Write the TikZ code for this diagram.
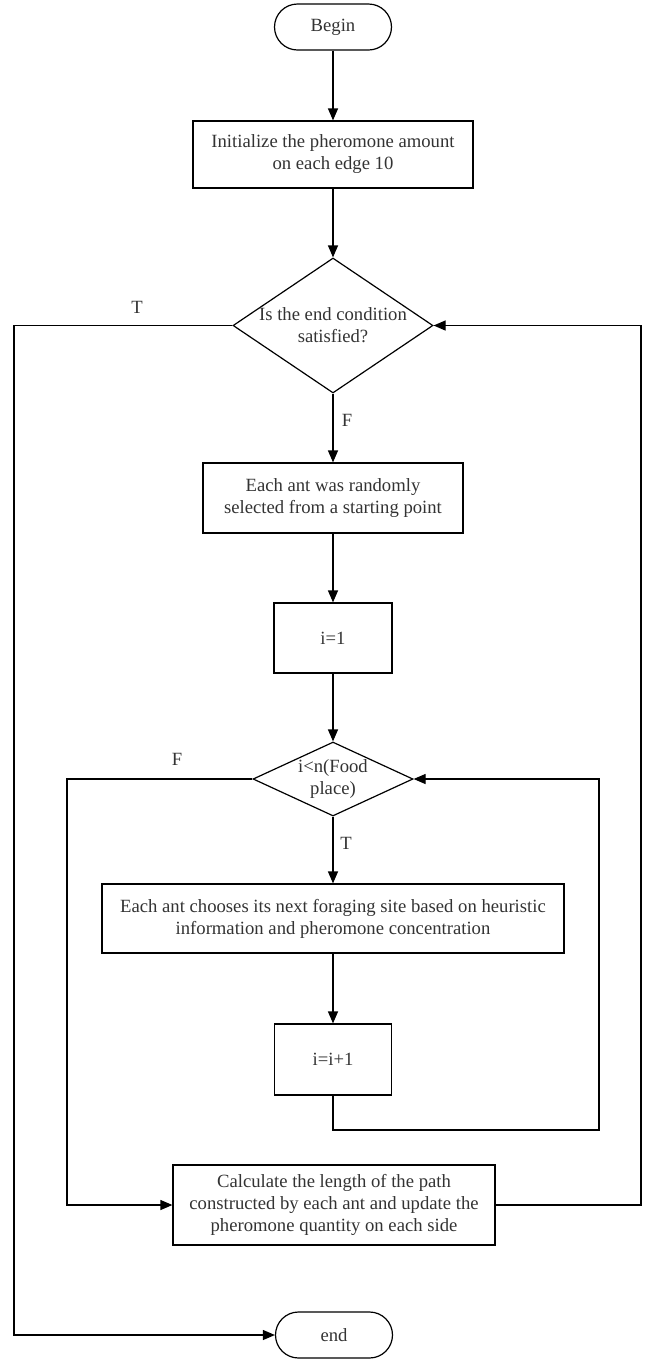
\documentclass[tikz,border=0pt]{standalone}
\usepackage{fontspec}
\setmainfont{Liberation Serif}
\usetikzlibrary{shapes.geometric,arrows.meta}

\begin{document}
\begin{tikzpicture}[x=0.75pt,y=-0.75pt,
		line width=0.9pt, >={Triangle[length=9pt,width=7.5pt]},
		every node/.style={font=\fontsize{14}{16.5}\selectfont, text=black!80},
		stepbox/.style={draw, rectangle, align=center, inner sep=0pt},
		termbox/.style={draw, rectangle, rounded corners=17.25pt, minimum width=87.75pt, minimum height=34.5pt},
		decision/.style={draw, diamond, align=center, inner sep=-2pt}]
		
		\useasboundingbox (0,0) rectangle (646,1361);
		
		% Blocks
		\node[termbox] (begin) at (333,27) {Begin};
		\node[stepbox, minimum width=210pt, minimum height=50.25pt] (init) at (333,154.5) {Initialize the pheromone amount\\on each edge 10};
		\node[decision, aspect=1.48, minimum width=150pt, minimum height=101.25pt] (cond) at (333,325.5) {Is the end condition\\satisfied?};
		\node[stepbox, minimum width=195pt, minimum height=52.5pt] (ants) at (333,498) {Each ant was randomly\\selected from a starting point};
		\node[stepbox, minimum width=88.5pt, minimum height=52.5pt] (ione) at (333,638) {i=1};
		\node[decision, aspect=2.16, minimum width=120pt, minimum height=55.5pt] (less) at (333,779) {i<n(Food\\place)};
		\node[stepbox, minimum width=346.5pt, minimum height=51.75pt] (choose) at (333,918.5) {Each ant chooses its next foraging site based on heuristic\\information and pheromone concentration};
		\node[stepbox, minimum width=87.75pt, minimum height=53.25pt] (inc) at (333,1059.5) {i=i+1};
		\node[stepbox, minimum width=241.5pt, minimum height=60pt] (calc) at (334,1205) {Calculate the length of the path\\constructed by each ant and update the\\pheromone quantity on each side};
		\node[termbox] (end) at (334,1335) {end};
		
		% Labels
		\node (condT) at (137,307) {T};
		\node (condF) at (347,420) {F};
		\node (lessF) at (177,759) {F};
		\node (lessT) at (346,843) {T};
		
		% Loop corners
		\coordinate (outL) at (14,0);
		\coordinate (outR) at (641,0);
		\coordinate (inL) at (67,0);
		\coordinate (inR) at (599,0);
		\coordinate (loopB) at (333,1130);
		
		% Arrows
		\draw[->] (begin) -- (init);
		\draw[->] (init) -- (cond);
		\draw[->] (cond) -- (ants);
		\draw[->] (ants) -- (ione);
		\draw[->] (ione) -- (less);
		\draw[->] (less) -- (choose);
		\draw[->] (choose) -- (inc);
		\draw[->] (inc.south) -- (loopB) -| (less.east -| inR) -- (less.east);
		\draw[->] (less.west) -- (less.west -| inL) |- (calc.west);
		\draw[->] (calc.east) -- (calc.east -| outR) |- (cond.east);
		\draw[->] (cond.west) -- (cond.west -| outL) |- (end.west);
\end{tikzpicture}
\end{document}
